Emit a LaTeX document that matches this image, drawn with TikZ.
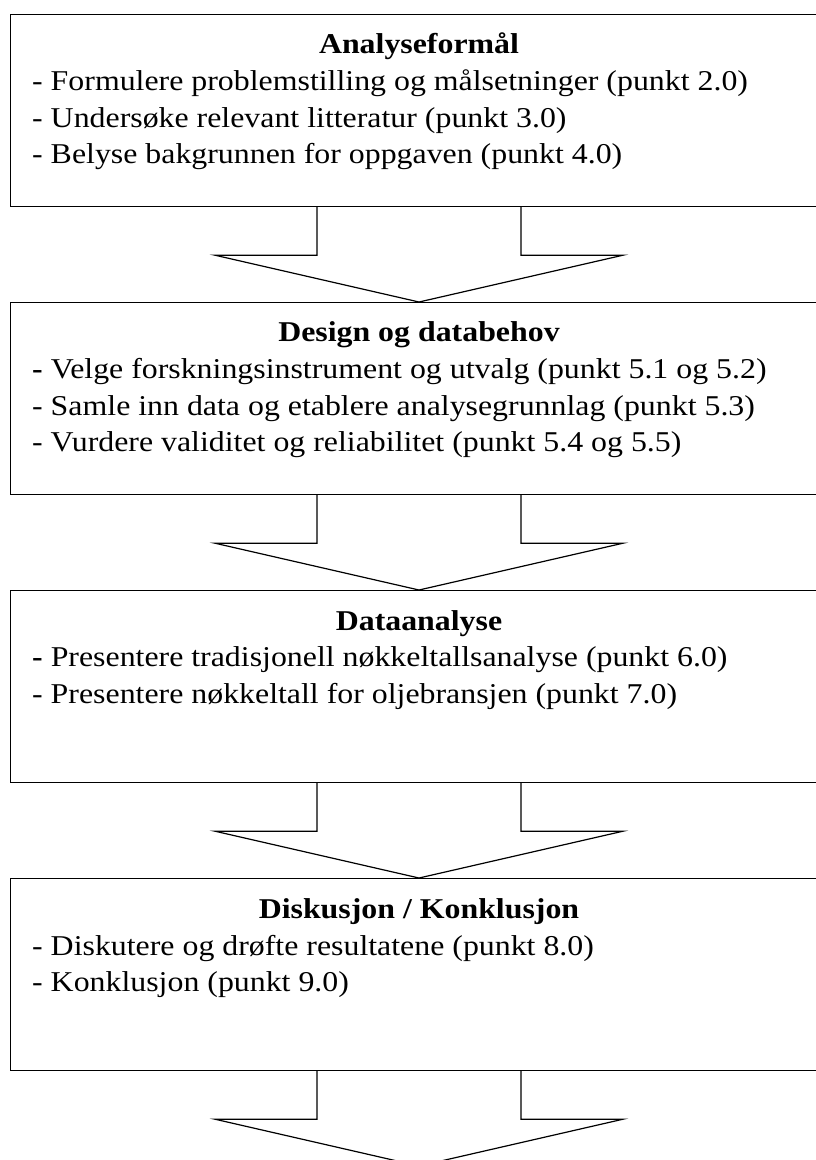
\documentclass[tikz,border=0pt]{standalone}
\usepackage{fontspec}
\setmainfont[FakeStretch=1.11]{Liberation Serif}
\usetikzlibrary{calc}
\begin{document}
\begin{tikzpicture}[x=1pt,y=-1pt,
  stagebox/.style={draw, line width=1.2pt, minimum width=816.6pt, minimum height=192pt, inner sep=0pt, anchor=north},
  blockarrow/.style={draw, line width=1.2pt, line join=miter},
  titletext/.style={anchor=base, inner sep=0pt, font=\fontsize{28.7}{34}\selectfont\bfseries},
  itemtext/.style={anchor=base west, inner sep=0pt, font=\fontsize{28.7}{34}\selectfont}]
\useasboundingbox (0,0) rectangle (816,1160);
\clip (0,0) rectangle (816,1160);

% boxes
\node[stagebox] (b1) at (419,14) {};
\node[stagebox] (b2) at (419,302) {};
\node[stagebox] (b3) at (419,590) {};
\node[stagebox] (b4) at (419,878) {};
\coordinate (end) at (419,1166);

% block arrows
\foreach \a/\b in {b1/b2, b2/b3, b3/b4} {
  \draw[blockarrow] ($(\a.south)+(-102,0)$) -- ++(0,48) -- ($(\a.south)+(-204,48)$)
    -- (\b.north) -- ($(\a.south)+(204,48)$) -- ($(\a.south)+(102,48)$) -- ($(\a.south)+(102,0)$);
}
\draw[blockarrow] ($(b4.south)+(-102,0)$) -- ++(0,48) -- ($(b4.south)+(-204,48)$)
    -- (end) -- ($(b4.south)+(204,48)$) -- ($(b4.south)+(102,48)$) -- ($(b4.south)+(102,0)$);

% box 1
\node[titletext] (t1) at ($(b1.north)+(0,39.5)$) {Analyseformål};
\node[itemtext] (t1a) at (32,90.5) {- Formulere problemstilling og målsetninger (punkt 2.0)};
\node[itemtext] (t1b) at (32,127) {- Undersøke relevant litteratur (punkt 3.0)};
\node[itemtext] (t1c) at (32,163.5) {- Belyse bakgrunnen for oppgaven (punkt 4.0)};

% box 2
\node[titletext] (t2) at ($(b2.north)+(0,39.5)$) {Design og databehov};
\node[itemtext] (t2a) at (32,378.5) {\textbf{-} Velge forskningsinstrument og utvalg (punkt 5.1 og 5.2)};
\node[itemtext] (t2b) at (32,415) {- Samle inn data og etablere analysegrunnlag (punkt 5.3)};
\node[itemtext] (t2c) at (32,451.5) {- Vurdere validitet og reliabilitet (punkt 5.4 og 5.5)};

% box 3
\node[titletext] (t3) at ($(b3.north)+(0,40)$) {Dataanalyse};
\node[itemtext] (t3a) at (32,666.5) {\textbf{-} Presentere tradisjonell nøkkeltallsanalyse (punkt 6.0)};
\node[itemtext] (t3b) at (32,703.5) {- Presentere nøkkeltall for oljebransjen (punkt 7.0)};

% box 4
\node[titletext] (t4) at ($(b4.north)+(0,40)$) {Diskusjon / Konklusjon};
\node[itemtext] (t4a) at (32,955) {- Diskutere og drøfte resultatene (punkt 8.0)};
\node[itemtext] (t4b) at (32,991.5) {- Konklusjon (punkt 9.0)};
\end{tikzpicture}
\end{document}
